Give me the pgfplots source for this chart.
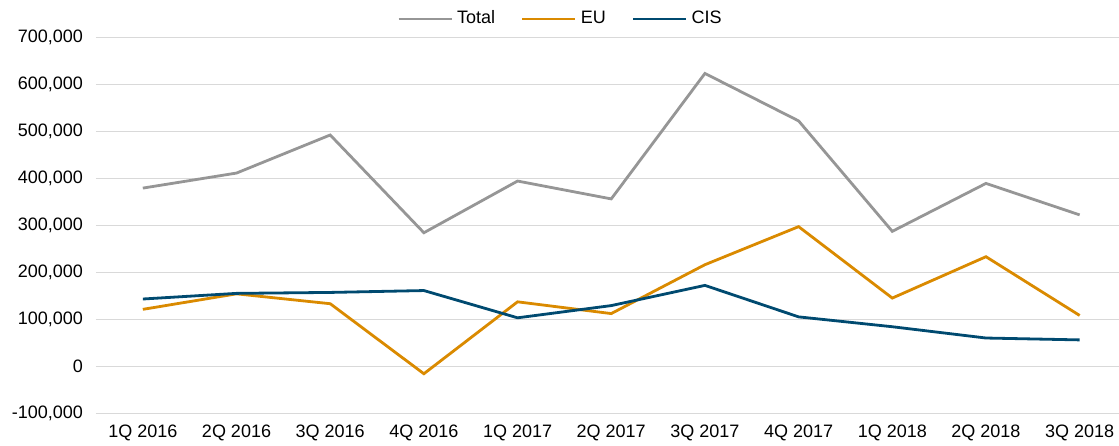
\documentclass[border=0pt]{standalone}
\usepackage{pgfplots}
\pgfplotsset{compat=1.18}
\usepackage{fontspec}
\setmainfont{Liberation Sans}
\definecolor{cTotal}{RGB}{150,150,150}
\definecolor{cEU}{RGB}{218,138,0}
\definecolor{cCIS}{RGB}{0,74,112}
\definecolor{cGrid}{RGB}{217,217,217}
\begin{document}
\begin{tikzpicture}
\begin{axis}[
  scale only axis,
  width=511.5pt, height=188pt,
  xmin=-0.5, xmax=10.42,
  ymin=-100000, ymax=700000,
  ytick={-100000,0,100000,200000,300000,400000,500000,600000,700000},
  xtick={0,...,10},
  xticklabels={1Q 2016,2Q 2016,3Q 2016,4Q 2016,1Q 2017,2Q 2017,3Q 2017,4Q 2017,1Q 2018,2Q 2018,3Q 2018},
  axis line style={draw=none},
  major tick length=0pt,
  ymajorgrids,
  grid style={cGrid, line width=0.65pt},
  scaled y ticks=false,
  yticklabel={\pgfmathprintnumber[assume math mode=true,fixed,precision=0,1000 sep={,}]{\tick}},
  tick label style={font=\fontsize{9}{10}\selectfont, text=black},
  yticklabel style={xshift=-3pt},
  xticklabel style={yshift=-2pt},
  legend style={draw=none, at={(0.455,1.05)}, anchor=center, font=\fontsize{9}{10}\selectfont, legend columns=-1, inner sep=0pt,
    /tikz/every even column/.append style={column sep=11pt}},
  legend cell align=left,
  legend image code/.code={\draw[#1] (0pt,0pt) -- (26.5pt,0pt);},
  every axis plot/.append style={line width=1.4pt, mark=none},
]
\addplot[cTotal] coordinates {(0,380000) (1,412000) (2,493000) (3,285000) (4,395000) (5,357000) (6,624000) (7,523000) (8,288000) (9,390000) (10,323000)};
\addlegendentry{Total}
\addplot[cEU] coordinates {(0,122000) (1,155000) (2,134000) (3,-15000) (4,138000) (5,113000) (6,217000) (7,298000) (8,146000) (9,234000) (10,109000)};
\addlegendentry{EU}
\addplot[cCIS] coordinates {(0,144000) (1,156000) (2,158000) (3,162000) (4,104000) (5,130000) (6,173000) (7,106000) (8,85000) (9,61000) (10,57000)};
\addlegendentry{CIS}
\end{axis}
\pgfresetboundingbox
\path (current axis.south west) ++(-48pt,-16.15pt) coordinate (bbsw);
\path (current axis.north east) ++(0pt,18.85pt) coordinate (bbne);
\path (bbsw) rectangle (bbne);
\end{tikzpicture}
\end{document}
